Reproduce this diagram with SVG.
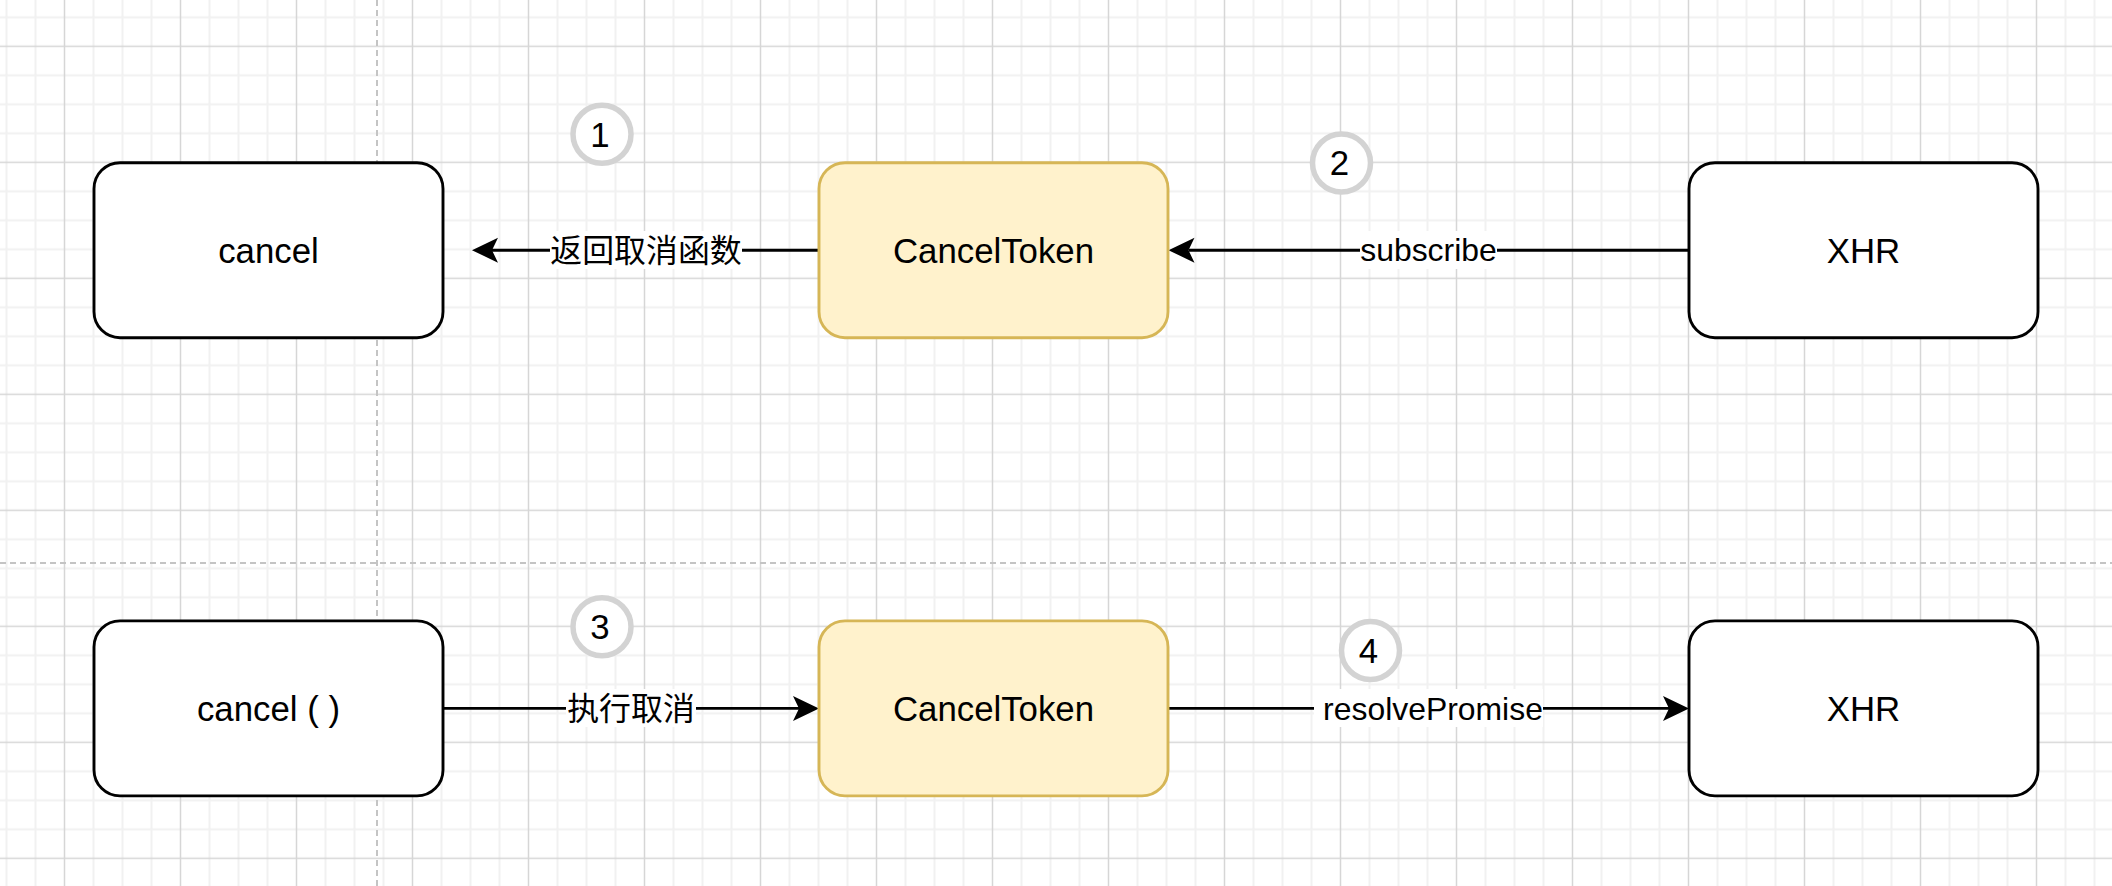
<svg xmlns="http://www.w3.org/2000/svg" width="2112" height="886" viewBox="0 0 2112 886">
<defs>
<style>
.plain { fill:#ffffff; stroke:#000000; stroke-width:2.9; }
.token { fill:#fff2cc; stroke:#d6b656; stroke-width:2.9; }
.ntext { font-family:"Liberation Sans", Arial, sans-serif; font-size:34.8px; fill:#000000; text-anchor:middle; }
.edge { stroke:#000000; stroke-width:2.9; fill:none; }
.lbg { fill:#ffffff; }
.ltext { font-family:"Liberation Sans", Arial, "Noto Sans CJK SC", sans-serif; font-size:31.9px; text-anchor:middle; fill:#000000; }
.badge { fill:#ffffff; stroke:#d3d3d3; stroke-width:5.5; }
.btext { font-family:"Liberation Sans", Arial, sans-serif; font-size:34.8px; fill:#000000; text-anchor:middle; }
.page { stroke:#c4c4c4; stroke-width:2; stroke-dasharray:6 4; fill:none; }
.minor { stroke:#f1f1f1; stroke-width:2; }
.major { stroke:#d6d6d6; stroke-width:1.5; }
</style>
<pattern id="grid" patternUnits="userSpaceOnUse" x="50" y="31.8" width="116" height="116">
<path class="minor" d="M43.5,0V116M72.5,0V116M101.5,0V116M0,43.5H116M0,72.5H116M0,101.5H116"/>
<path class="major" d="M14.5,0V116M0,14.5H116"/>
</pattern>
<marker id="arrow" markerUnits="userSpaceOnUse" markerWidth="28" markerHeight="28" viewBox="0 0 28 28" refX="6" refY="14" orient="auto">
<path d="M26,14 L0,1.5 L6,14 L0,26.5 Z" fill="#000000"/>
</marker>
</defs>
<g id="background">
<rect x="0" y="0" width="2112" height="886" fill="#ffffff"/>
<rect x="0" y="0" width="2112" height="886" fill="url(#grid)"/>
<path class="page" d="M377,0V886M0,563H2112"/>
</g>
<g id="connectors">
<path class="edge" d="M819,250.2 L492,250.2" marker-end="url(#arrow)"/>
<path class="edge" d="M1689,250.2 L1188.5,250.2" marker-end="url(#arrow)"/>
<path class="edge" d="M443,708.4 L799,708.4" marker-end="url(#arrow)"/>
<path class="edge" d="M1168,708.4 L1669,708.4" marker-end="url(#arrow)"/>
<rect class="lbg" x="550" y="231" width="192" height="38"/>
<text class="ltext" x="646" y="261.5">返回取消函数</text>
<rect class="lbg" x="1360" y="231" width="137" height="38"/>
<text class="ltext" x="1428.5" y="261">subscribe</text>
<rect class="lbg" x="566" y="689" width="130" height="38"/>
<text class="ltext" x="631" y="719.8">执行取消</text>
<rect class="lbg" x="1314" y="689" width="229" height="38"/>
<text class="ltext" x="1433" y="719.5">resolvePromise</text>
</g>
<g id="node-cancel">
<rect class="plain" x="94" y="162.7" width="349" height="175" rx="26" ry="26"/>
<text class="ntext" x="268.5" y="262.7">cancel</text>
</g>
<g id="node-canceltoken-1">
<rect class="token" x="819" y="162.7" width="349" height="175" rx="26" ry="26"/>
<text class="ntext" x="993.5" y="262.7">CancelToken</text>
</g>
<g id="node-xhr-1">
<rect class="plain" x="1689" y="162.7" width="349" height="175" rx="26" ry="26"/>
<text class="ntext" x="1863.5" y="262.7">XHR</text>
</g>
<g id="node-cancel-call">
<rect class="plain" x="94" y="620.9" width="349" height="175" rx="26" ry="26"/>
<text class="ntext" x="268.5" y="720.9">cancel ( )</text>
</g>
<g id="node-canceltoken-2">
<rect class="token" x="819" y="620.9" width="349" height="175" rx="26" ry="26"/>
<text class="ntext" x="993.5" y="720.9">CancelToken</text>
</g>
<g id="node-xhr-2">
<rect class="plain" x="1689" y="620.9" width="349" height="175" rx="26" ry="26"/>
<text class="ntext" x="1863.5" y="720.9">XHR</text>
</g>
<g id="badge-1">
<circle class="badge" cx="602" cy="134.2" r="29"/>
<text class="btext" x="600" y="146.5">1</text>
</g>
<g id="badge-2">
<circle class="badge" cx="1341.5" cy="163" r="29"/>
<text class="btext" x="1339.5" y="175.3">2</text>
</g>
<g id="badge-3">
<circle class="badge" cx="602" cy="626.8" r="29"/>
<text class="btext" x="600" y="639">3</text>
</g>
<g id="badge-4">
<circle class="badge" cx="1370.5" cy="650.5" r="29"/>
<text class="btext" x="1368.5" y="662.5">4</text>
</g>
</svg>
